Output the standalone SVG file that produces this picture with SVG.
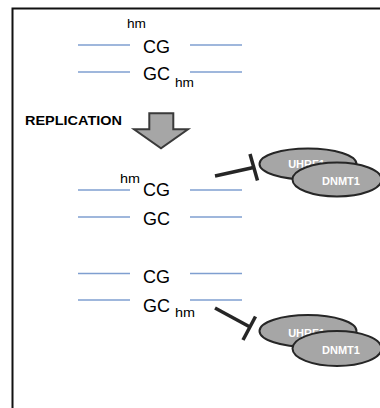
<svg xmlns="http://www.w3.org/2000/svg" width="380" height="408" viewBox="0 0 380 408">
<style>
.strand{stroke:#7f9fd0;stroke-width:1.4;fill:none}
.base{font-family:"Liberation Sans",Arial,sans-serif;font-size:18px;fill:#000}
.mark{font-family:"Liberation Sans",Arial,sans-serif;font-size:13px;fill:#000}
.rep{font-family:"Liberation Sans",Arial,sans-serif;font-size:12.5px;font-weight:bold;fill:#000}
.prot{fill:#a6a6a6;stroke:#262626;stroke-width:2}
.plabel{font-family:"Liberation Sans",Arial,sans-serif;font-size:11px;font-weight:bold;fill:#fff;text-anchor:middle}
.inhib{stroke:#262626;stroke-width:3.5;fill:none;stroke-linecap:butt}
</style>
<rect x="12.5" y="8.5" width="420" height="440" fill="#fff" stroke="#111" stroke-width="2"/>

<g id="dna-top">
  <line class="strand" x1="78" y1="45" x2="130" y2="45"/>
  <line class="strand" x1="190" y1="45" x2="242" y2="45"/>
  <line class="strand" x1="78" y1="72" x2="130" y2="72"/>
  <line class="strand" x1="190" y1="72" x2="242" y2="72"/>
  <text class="mark" x="127" y="28" textLength="19" lengthAdjust="spacingAndGlyphs">hm</text>
  <text class="base" x="143" y="53">CG</text>
  <text class="base" x="143" y="80">GC</text>
  <text class="mark" x="175" y="87" textLength="19" lengthAdjust="spacingAndGlyphs">hm</text>
</g>

<g id="replication">
  <text class="rep" x="25" y="125" textLength="97" lengthAdjust="spacingAndGlyphs">REPLICATION</text>
  <polygon points="149.3,113.3 173.3,113.3 173.3,129.3 188,129.3 161,148.3 134,129.3 149.3,129.3" fill="#a6a6a6" stroke="#3a3a3a" stroke-width="2" stroke-linejoin="miter"/>
</g>

<g id="dna-mid">
  <line class="strand" x1="78" y1="190" x2="130" y2="190"/>
  <line class="strand" x1="190" y1="190" x2="242" y2="190"/>
  <line class="strand" x1="78" y1="217" x2="130" y2="217"/>
  <line class="strand" x1="190" y1="217" x2="242" y2="217"/>
  <text class="mark" x="120" y="183" textLength="20" lengthAdjust="spacingAndGlyphs">hm</text>
  <text class="base" x="143" y="196">CG</text>
  <text class="base" x="143" y="225">GC</text>
</g>

<g id="dna-bottom">
  <line class="strand" x1="78" y1="273.5" x2="130" y2="273.5"/>
  <line class="strand" x1="190" y1="273.5" x2="242" y2="273.5"/>
  <line class="strand" x1="78" y1="300" x2="130" y2="300"/>
  <line class="strand" x1="190" y1="300" x2="242" y2="300"/>
  <text class="base" x="143" y="282.5">CG</text>
  <text class="base" x="143" y="311.5">GC</text>
  <text class="mark" x="175" y="316.5" textLength="20" lengthAdjust="spacingAndGlyphs">hm</text>
</g>

<g id="complex-top">
  <ellipse class="prot" cx="308" cy="164" rx="48.5" ry="15.5"/>
  <text class="plabel" x="306.5" y="168">UHRF1</text>
  <ellipse class="prot" cx="337" cy="179.5" rx="44.5" ry="17"/>
  <text class="plabel" x="341" y="185">DNMT1</text>
</g>

<g id="complex-bottom">
  <ellipse class="prot" cx="308" cy="331" rx="48.5" ry="16"/>
  <text class="plabel" x="306.5" y="336.5">UHRF1</text>
  <ellipse class="prot" cx="337" cy="348.5" rx="44.5" ry="17.5"/>
  <text class="plabel" x="341" y="353.5">DNMT1</text>
</g>

<g id="connectors">
  <line class="inhib" x1="215" y1="176" x2="253.5" y2="167.5"/>
  <line class="inhib" x1="250" y1="154" x2="257.5" y2="180.5"/>
  <line class="inhib" x1="215" y1="308" x2="250" y2="327"/>
  <line class="inhib" x1="255.5" y1="316.5" x2="243" y2="340"/>
</g>
</svg>
